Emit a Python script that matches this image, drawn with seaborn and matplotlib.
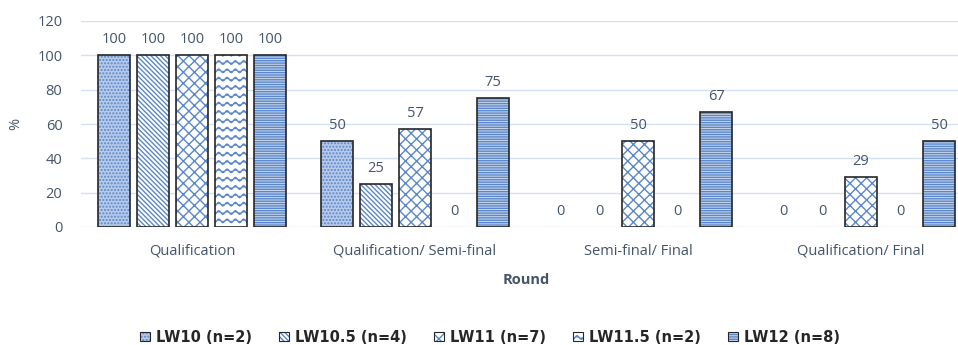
import numpy as np
import pandas as pd
import matplotlib
matplotlib.use("Agg")
import matplotlib.pyplot as plt
import matplotlib.hatch as mhatch
from matplotlib.patches import Patch, Rectangle
from matplotlib.path import Path
import seaborn as sns

# ---- data -------------------------------------------------------------
rounds = ["Qualification", "Qualification/ Semi-final", "Semi-final/ Final", "Qualification/ Final"]
groups = ["LW10 (n=2)", "LW10.5 (n=4)", "LW11 (n=7)", "LW11.5 (n=2)", "LW12 (n=8)"]
lw10 = [100, 50, 0, 0]
lw10_5 = [100, 25, 0, 0]
lw11 = [100, 57, 50, 29]
lw11_5 = [100, 0, 0, 0]
lw12 = [100, 75, 67, 50]
series = [lw10, lw10_5, lw11, lw11_5, lw12]
y_ticks = [0, 20, 40, 60, 80, 100, 120]


# ---- a wavy hatch ('~') ----------------------------------------------
class WaveHatch(mhatch.HatchPatternBase):
    periods = 12
    steps_per_period = 8
    amplitude = 0.018

    def __init__(self, hatch, density):
        self.num_lines = int(hatch.count("~") * density)
        self.npts = self.periods * self.steps_per_period + 1
        self.num_vertices = self.num_lines * self.npts

    def set_vertices_and_codes(self, vertices, codes):
        xs = np.linspace(0.0, 1.0, self.npts)
        offsets = np.linspace(0.0, 1.0, self.num_lines, endpoint=False) + 0.5 / self.num_lines
        for i, y0 in enumerate(offsets):
            sl = slice(i * self.npts, (i + 1) * self.npts)
            vertices[sl, 0] = xs
            vertices[sl, 1] = y0 + self.amplitude * np.sin(2 * np.pi * self.periods * xs)
            codes[sl] = Path.LINETO
            codes[i * self.npts] = Path.MOVETO


if WaveHatch not in mhatch._hatch_types:
    mhatch._hatch_types.append(WaveHatch)

# ---- styling ----------------------------------------------------------
sns.set_theme(style="white")
plt.rcParams["font.family"] = ["Open Sans", "DejaVu Sans"]
plt.rcParams["hatch.linewidth"] = 1.0

text_color = "#44546A"
hatch_blue = "#5B87C9"
grid_color = "#D5E0F2"
outline = "#262626"
hatches = [".....", "\\\\\\\\\\\\\\", "xxx", "~~", "-------"]
faces = ["#B7CAEA", "white", "white", "white", "#C9D8EF"]

df = pd.DataFrame(
    [(r, g, v) for g, vals in zip(groups, series) for r, v in zip(rounds, vals)],
    columns=["Round", "Group", "%"],
)

fig = plt.figure(figsize=(9.58, 3.45), dpi=100)
ax = fig.add_axes([80.5 / 958, (345 - 227) / 345, 892 / 958, 206 / 345])

sns.barplot(
    data=df, x="Round", y="%", hue="Group", order=rounds, hue_order=groups,
    palette=faces, width=0.875, gap=0.2, edgecolor=hatch_blue, linewidth=0,
    saturation=1, legend=False, ax=ax,
)

for cont, hatch, vals in zip(ax.containers, hatches, series):
    for bar in cont:
        bar.set_hatch(hatch)
        if bar.get_height() > 0:
            ax.add_patch(Rectangle(bar.get_xy(), bar.get_width(), bar.get_height(),
                                   fill=False, edgecolor=outline, linewidth=1.2, zorder=3))
    ax.bar_label(cont, labels=[f"{v:g}" for v in vals], padding=6,
                 color=text_color, fontsize=10.5)

ax.set_ylim(0, 120)
ax.set_yticks(y_ticks)
ax.set_xlim(-0.5, len(rounds) - 0.5)
ax.yaxis.grid(True, color=grid_color, linewidth=1.0)
ax.set_axisbelow(True)
for s in ax.spines.values():
    s.set_visible(False)
ax.tick_params(axis="both", length=0, colors=text_color, labelsize=10.5)
ax.tick_params(axis="y", pad=13)
ax.tick_params(axis="x", pad=12)
ax.set_ylabel("%", color=text_color, fontsize=10.5, labelpad=10)
ax.set_xlabel("Round", color=text_color, fontsize=10.5, fontweight="bold", labelpad=10)

handles = [
    (Patch(facecolor=f, hatch=h, edgecolor=hatch_blue, linewidth=0),
     Patch(fill=False, edgecolor=outline, linewidth=0.8))
    for f, h in zip(faces, hatches)
]
fig.legend(
    handles, groups, loc="center", bbox_to_anchor=(490 / 958, 1 - 337 / 345),
    ncol=5, frameon=False, handlelength=0.65, handleheight=0.65, handletextpad=0.4,
    columnspacing=1.9, borderpad=0,
    prop={"family": ["DejaVu Sans"], "weight": "bold", "size": 10.5},
)

fig.savefig("out.png", dpi=100)
